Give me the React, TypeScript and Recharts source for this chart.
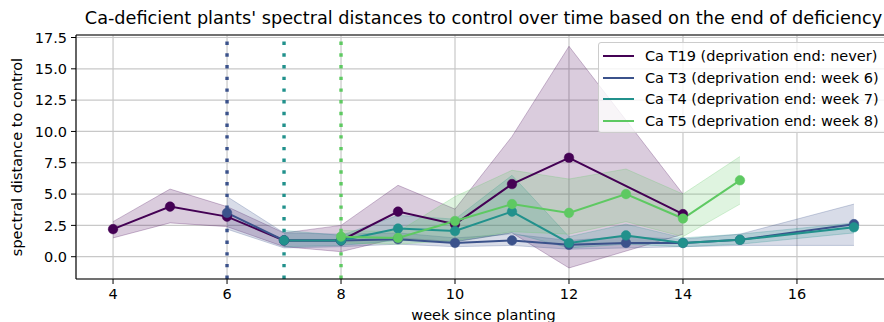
import { ComposedChart, Line, Area, XAxis, YAxis, CartesianGrid, ReferenceLine } from "recharts";

// mean spectral distance to control per week, with the shaded band limits
const t19Weeks = [4, 5, 6, 7, 8, 9, 10, 11, 12, 14];
const t19Mean = [2.2, 4.0, 3.2, 1.3, 1.3, 3.6, 2.6, 5.8, 7.9, 3.4];
const t19Low = [1.5, 2.7, 2.4, 0.8, 0.4, 1.5, 1.2, 1.9, -0.9, 1.8];
const t19High = [2.8, 5.4, 4.0, 1.9, 2.5, 5.7, 3.8, 9.6, 16.8, 5.0];

const t3Weeks = [6, 7, 8, 9, 10, 11, 12, 13, 14, 15, 17];
const t3Mean = [3.5, 1.3, 1.3, 1.4, 1.1, 1.3, 0.95, 1.1, 1.1, 1.35, 2.6];
const t3Low = [2.2, 0.7, 0.8, 1.0, 0.8, 0.9, 0.6, 0.7, 0.8, 0.9, 0.9];
const t3High = [4.8, 1.9, 1.8, 1.9, 1.5, 1.8, 1.3, 1.6, 1.4, 1.8, 4.2];

const t4Weeks = [7, 8, 9, 10, 11, 12, 13, 14, 15, 17];
const t4Mean = [1.3, 1.3, 2.25, 2.05, 3.6, 1.1, 1.7, 1.1, 1.35, 2.35];
const t4Low = [0.8, 0.9, 1.3, 1.2, 1.9, 0.7, 1.0, 0.8, 1.0, 1.9];
const t4High = [2.1, 1.7, 3.3, 3.0, 6.5, 1.6, 2.6, 1.5, 1.8, 2.7];

const t5Weeks = [8, 9, 10, 11, 12, 13, 14, 15];
const t5Mean = [1.6, 1.5, 2.85, 4.2, 3.5, 5.0, 3.05, 6.1];
const t5Low = [1.1, 1.0, 1.3, 2.0, 1.8, 2.8, 1.6, 4.2];
const t5High = [2.1, 2.0, 4.8, 6.9, 6.2, 7.0, 5.0, 8.0];

const seriesNames = [
  "Ca T19 (deprivation end: never)",
  "Ca T3 (deprivation end: week 6)",
  "Ca T4 (deprivation end: week 7)",
  "Ca T5 (deprivation end: week 8)",
];
const seriesColors = ["#440154", "#3b528b", "#21918c", "#5ec962"];

// week at which deprivation ended (T3, T4, T5)
const endWeeks = [6, 7, 8];
const endColors = ["#3b528b", "#21918c", "#5ec962"];

const xTicks = [4, 6, 8, 10, 12, 14, 16];
const yTicks = [0, 2.5, 5, 7.5, 10, 12.5, 15, 17.5];

const X_MIN = 3.35;
const X_MAX = 17.65;
const Y_MIN = -1.78;
const Y_MAX = 17.7;

const buildRows = (weeks: number[], mean: number[], low: number[], high: number[]) =>
  weeks.map((w, i) => ({ week: w, mean: mean[i], band: [low[i], high[i]] }));

const series = [
  buildRows(t19Weeks, t19Mean, t19Low, t19High),
  buildRows(t3Weeks, t3Mean, t3Low, t3High),
  buildRows(t4Weeks, t4Mean, t4Low, t4High),
  buildRows(t5Weeks, t5Mean, t5Low, t5High),
];

const FONT = '"DejaVu Sans", sans-serif';
const tickStyle = { fontSize: 14.5, fill: "#000", fontFamily: FONT };

export default function App() {
  return (
    <div
      style={{
        position: "fixed",
        left: 0,
        top: 0,
        width: 884,
        height: 322,
        overflow: "hidden",
        background: "#fff",
        fontFamily: FONT,
      }}
    >
      <div
        style={{
          position: "absolute",
          left: 76,
          width: 815,
          top: 8,
          textAlign: "center",
          fontSize: 17.7,
          lineHeight: "20px",
          color: "#000",
          whiteSpace: "nowrap",
        }}
      >
        Ca-deficient plants' spectral distances to control over time based on the end of deficiency
      </div>

      <ComposedChart width={900} height={322} margin={{ top: 35, right: 9, bottom: 0, left: 0 }}>
        <CartesianGrid stroke="#c8c8c8" strokeWidth={1.2} />
        <XAxis
          dataKey="week"
          type="number"
          domain={[X_MIN, X_MAX]}
          ticks={xTicks}
          allowDataOverflow
          height={43}
          tick={tickStyle}
          tickSize={5}
          tickMargin={5}
          stroke="#000"
          axisLine={{ stroke: "#000", strokeWidth: 1.1 }}
          tickLine={{ stroke: "#000" }}
        />
        <YAxis
          type="number"
          domain={[Y_MIN, Y_MAX]}
          ticks={yTicks}
          allowDataOverflow
          width={76}
          tick={tickStyle}
          tickSize={5}
          tickMargin={4}
          tickFormatter={(v: number) => v.toFixed(1)}
          axisLine={{ stroke: "#000", strokeWidth: 1.1 }}
          tickLine={{ stroke: "#000" }}
          label={{
            value: "spectral distance to control",
            angle: -90,
            position: "insideLeft",
            offset: 17,
            style: { textAnchor: "middle", fontSize: 14.5, fill: "#000", fontFamily: FONT },
          }}
        />
        <ReferenceLine y={Y_MAX} stroke="#000" strokeWidth={1.1} />

        {series.map((rows, i) => (
          <Area
            key={"band" + i}
            data={rows}
            dataKey="band"
            type="linear"
            fill={seriesColors[i]}
            fillOpacity={0.2}
            stroke={seriesColors[i]}
            strokeOpacity={0.25}
            strokeWidth={1}
            isAnimationActive={false}
            activeDot={false}
          />
        ))}

        {endWeeks.map((w, i) => (
          <ReferenceLine
            key={"end" + w}
            x={w}
            stroke={endColors[i]}
            strokeWidth={3.4}
            strokeDasharray="3.4 8.3"
          />
        ))}

        {series.map((rows, i) => (
          <Line
            key={"line" + i}
            data={rows}
            dataKey="mean"
            type="linear"
            stroke={seriesColors[i]}
            strokeWidth={2}
            dot={{ r: 4.8, fill: seriesColors[i], stroke: seriesColors[i], strokeWidth: 0.5 }}
            activeDot={false}
            isAnimationActive={false}
          />
        ))}
      </ComposedChart>

      <div
        style={{
          position: "absolute",
          left: 483.5,
          top: 307,
          transform: "translateX(-50%)",
          fontSize: 14.5,
          whiteSpace: "nowrap",
          color: "#000",
        }}
      >
        week since planting
      </div>

      <div
        style={{
          position: "absolute",
          left: 598,
          top: 42,
          width: 300,
          height: 91,
          border: "1px solid #cccccc",
          borderRadius: 3,
          background: "rgba(255,255,255,0.8)",
          boxSizing: "border-box",
        }}
      >
        {seriesNames.map((name, i) => (
          <div
            key={name}
            style={{
              position: "absolute",
              left: 0,
              top: 2 + i * 21.7,
              height: 21.7,
              display: "flex",
              alignItems: "center",
              whiteSpace: "nowrap",
              fontSize: 14.5,
              color: "#000",
            }}
          >
            <span
              style={{
                display: "inline-block",
                marginLeft: 4,
                width: 31,
                height: 2,
                background: seriesColors[i],
                marginRight: 11,
              }}
            />
            {name}
          </div>
        ))}
      </div>
    </div>
  );
}
